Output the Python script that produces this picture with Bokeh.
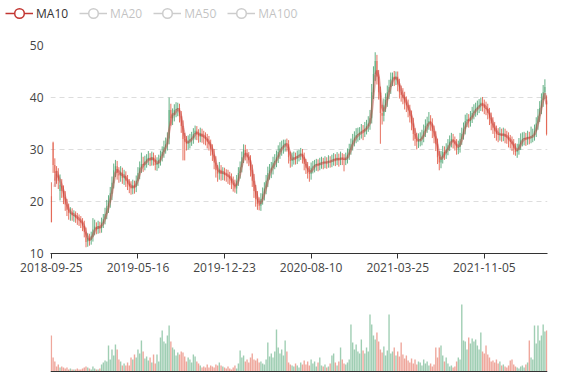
import numpy as np
import pandas as pd
from bokeh.plotting import figure
from bokeh.models import (ColumnDataSource, Range1d, Legend, LegendItem, Span,
                          FixedTicker)
from bokeh.layouts import column
from bokeh.embed import file_html
from bokeh.resources import INLINE

# ---------------- data (each candle ~ 3 trading days) ----------------
tick_labels = ["2018-09-25", "2019-05-16", "2019-12-23", "2020-08-10", "2021-03-25", "2021-11-05"]
tick_index = [0, 50, 100, 150, 200, 250]
series_names = ["MA10", "MA20", "MA50", "MA100"]

opens = [
    21.0, 31.3, 27.0, 25.2, 25.0, 22.0, 23.0, 22.0, 20.8, 19.4,
    18.4, 17.6, 17.8, 17.2, 17.3, 16.9, 16.5, 16.3, 15.9, 15.3,
    14.2, 12.3, 12.9, 12.6, 13.2, 14.6, 15.1, 14.7, 15.2, 14.9,
    15.8, 16.6, 17.6, 19.0, 19.8, 21.5, 23.5, 26.0, 26.8, 25.4,
    25.0, 25.6, 24.5, 24.9, 24.0, 23.4, 22.9, 22.5, 23.1, 22.8,
    24.0, 25.5, 26.5, 27.2, 27.0, 27.7, 28.1, 28.4, 27.9, 28.5,
    28.0, 27.0, 27.4, 28.0, 28.8, 29.5, 30.5, 31.0, 32.1, 37.6,
    36.0, 36.7, 37.6, 37.8, 38.0, 36.4, 34.5, 32.0, 31.5, 31.1,
    31.6, 32.0, 32.2, 33.0, 33.6, 33.0, 32.5, 33.1, 32.5, 32.3,
    32.0, 31.5, 31.0, 30.0, 29.0, 27.5, 26.0, 25.4, 26.1, 25.3,
    25.6, 25.2, 25.0, 24.8, 24.4, 23.5, 23.2, 22.5, 24.0, 25.5,
    26.6, 28.5, 29.9, 29.0, 28.5, 28.0, 26.0, 24.0, 22.0, 20.5,
    19.5, 19.2, 20.5, 21.5, 22.5, 24.0, 25.5, 26.0, 26.5, 27.5,
    27.8, 28.5, 29.5, 30.2, 30.5, 30.8, 31.2, 31.0, 28.5, 27.8,
    28.2, 28.5, 28.3, 28.8, 29.0, 29.2, 28.5, 27.2, 26.5, 25.5,
    25.3, 26.5, 26.8, 27.0, 27.2, 27.0, 27.4, 27.5, 27.4, 27.6,
    27.5, 27.8, 27.7, 27.9, 28.2, 28.0, 28.3, 28.0, 28.4, 28.2,
    28.0, 28.3, 29.0, 30.0, 31.0, 31.8, 32.3, 32.8, 33.0, 33.2,
    33.8, 33.5, 34.0, 34.5, 35.0, 36.0, 41.0, 44.5, 47.0, 44.0,
    41.0, 37.0, 36.5, 38.5, 39.5, 41.0, 42.0, 43.5, 44.0, 43.5,
    44.0, 42.5, 41.0, 40.5, 40.0, 39.0, 38.5, 37.5, 36.5, 35.0,
    33.0, 32.0, 31.5, 31.8, 32.0, 32.5, 33.5, 34.5, 35.0, 35.5,
    35.0, 33.5, 32.5, 31.0, 28.5, 27.5, 28.5, 29.5, 29.3, 30.0,
    30.8, 31.5, 32.0, 31.5, 31.0, 30.2, 30.5, 32.0, 33.0, 34.0,
    35.5, 35.8, 35.5, 36.2, 37.0, 37.5, 37.8, 38.2, 38.5, 39.0,
    38.5, 38.0, 37.8, 37.0, 36.0, 35.0, 34.2, 33.5, 33.0, 32.8,
    33.0, 32.7, 33.0, 32.5, 32.3, 31.8, 31.5, 31.0, 30.2, 29.5,
    30.0, 31.0, 31.8, 32.0, 32.2, 32.0, 32.4, 32.2, 32.5, 32.8,
    33.5, 35.0, 36.5, 38.0, 39.5, 41.0, 39.4]

highs = [
    23.7, 31.5, 28.3, 26.8, 26.4, 25.2, 24.3, 23.1, 22.0, 20.5,
    19.6, 18.9, 18.7, 18.3, 18.1, 17.8, 17.5, 17.2, 16.8, 16.3,
    15.0, 13.9, 13.8, 14.2, 16.8, 16.5, 16.0, 16.3, 16.1, 16.9,
    17.6, 18.8, 20.3, 21.2, 22.8, 24.8, 27.3, 28.0, 27.8, 26.6,
    26.8, 26.5, 26.1, 25.8, 25.1, 24.3, 23.9, 24.2, 24.0, 25.0,
    26.6, 27.7, 29.4, 28.6, 28.8, 29.1, 29.7, 29.3, 29.6, 29.4,
    28.9, 28.5, 29.0, 29.8, 30.6, 31.7, 32.3, 33.3, 40.0, 38.8,
    37.9, 38.7, 39.1, 39.0, 38.8, 37.4, 35.6, 33.2, 32.6, 32.7,
    33.0, 33.4, 34.1, 34.6, 34.5, 33.9, 34.2, 34.0, 33.6, 33.3,
    33.0, 32.6, 31.9, 31.0, 30.1, 28.7, 27.0, 27.6, 27.0, 26.6,
    26.5, 26.2, 26.1, 25.7, 25.4, 24.8, 24.2, 25.1, 26.6, 27.7,
    29.6, 31.0, 30.9, 30.1, 29.5, 28.9, 27.1, 25.3, 23.2, 22.0,
    20.8, 21.6, 22.7, 23.7, 25.1, 26.7, 27.2, 27.6, 28.6, 29.1,
    29.8, 30.8, 31.4, 31.7, 31.9, 31.9, 32.1, 31.8, 29.6, 29.4,
    29.6, 29.4, 29.8, 30.0, 30.3, 30.1, 29.4, 28.2, 27.6, 26.8,
    27.5, 27.8, 28.0, 28.2, 28.1, 28.4, 28.6, 28.4, 28.7, 28.5,
    28.9, 28.7, 29.0, 29.3, 29.1, 29.5, 29.2, 29.6, 29.3, 29.1,
    29.4, 30.2, 31.1, 32.1, 33.0, 33.5, 34.1, 34.2, 34.3, 34.9,
    34.7, 35.3, 35.7, 36.4, 37.6, 42.6, 46.0, 48.7, 48.2, 45.3,
    42.1, 38.6, 39.8, 40.8, 42.3, 43.4, 44.8, 44.8, 45.1, 45.0,
    45.0, 43.6, 42.3, 41.8, 41.1, 40.2, 39.6, 38.6, 37.5, 36.1,
    34.1, 33.2, 33.1, 33.3, 33.8, 34.8, 35.8, 36.3, 37.2, 36.6,
    36.0, 34.6, 33.5, 32.1, 29.7, 29.7, 30.7, 30.6, 31.2, 32.0,
    32.7, 33.2, 33.0, 32.5, 32.0, 31.7, 33.2, 34.2, 35.2, 36.7,
    37.0, 36.8, 37.4, 38.2, 38.7, 39.0, 39.4, 39.7, 40.0, 40.1,
    39.6, 39.2, 38.8, 38.0, 37.1, 36.2, 35.3, 34.6, 34.1, 34.3,
    34.0, 34.2, 34.0, 33.6, 33.3, 32.8, 32.5, 32.0, 31.2, 31.1,
    32.2, 33.1, 33.3, 33.4, 33.2, 33.6, 33.4, 34.4, 34.0, 34.8,
    36.2, 37.8, 39.3, 40.8, 42.4, 43.5, 40.4]

lows = [
    16.0, 25.5, 24.0, 23.4, 22.4, 20.2, 20.7, 19.5, 18.2, 17.2,
    16.5, 16.3, 16.3, 16.1, 15.9, 15.5, 15.3, 14.9, 14.3, 13.1,
    11.2, 11.3, 11.5, 11.7, 12.3, 13.5, 13.7, 13.8, 13.9, 14.0,
    14.9, 15.6, 16.6, 17.8, 18.8, 20.3, 22.5, 24.7, 24.2, 23.6,
    23.8, 23.4, 23.2, 22.8, 22.2, 21.6, 21.3, 21.4, 21.5, 21.8,
    23.0, 24.3, 25.5, 25.7, 26.0, 26.5, 27.0, 26.8, 26.9, 26.9,
    26.0, 25.9, 26.4, 26.9, 27.7, 28.4, 29.2, 29.8, 31.0, 34.6,
    34.7, 35.4, 36.2, 36.4, 35.2, 33.2, 27.9, 27.9, 29.8, 30.0,
    30.2, 30.7, 31.1, 31.9, 31.8, 31.3, 31.4, 31.3, 31.0, 30.8,
    30.2, 29.8, 28.8, 27.8, 26.2, 24.6, 23.8, 24.2, 24.0, 24.1,
    24.0, 23.8, 23.4, 23.2, 22.4, 21.9, 21.7, 21.5, 23.0, 24.4,
    25.6, 27.4, 27.9, 27.3, 26.8, 24.8, 22.8, 20.7, 19.0, 18.4,
    18.3, 18.2, 19.4, 20.2, 21.4, 22.8, 24.2, 24.5, 25.2, 26.2,
    26.6, 27.4, 28.2, 28.8, 29.2, 29.6, 29.6, 27.3, 26.5, 26.7,
    27.1, 27.1, 27.2, 27.7, 28.0, 27.3, 26.0, 25.3, 24.4, 23.8,
    24.2, 25.4, 25.6, 25.9, 25.8, 26.0, 26.3, 26.2, 26.4, 26.3,
    26.5, 26.5, 26.6, 26.9, 26.8, 27.0, 26.7, 27.0, 27.0, 25.8,
    27.0, 27.3, 28.0, 29.0, 29.8, 30.6, 31.2, 31.5, 31.8, 32.1,
    31.8, 32.4, 32.9, 33.4, 33.8, 35.0, 39.7, 43.2, 42.5, 39.6,
    31.1, 34.8, 35.4, 37.2, 38.2, 39.7, 40.7, 42.2, 42.2, 42.4,
    41.2, 39.8, 39.2, 38.7, 37.7, 37.2, 36.2, 35.2, 33.7, 31.7,
    30.7, 30.0, 30.3, 30.6, 30.8, 31.4, 32.4, 33.2, 33.8, 33.6,
    32.2, 31.2, 29.7, 27.2, 26.0, 26.4, 27.3, 28.0, 28.2, 28.9,
    29.7, 30.4, 30.2, 29.8, 29.0, 29.1, 29.4, 30.9, 31.9, 32.9,
    34.3, 34.2, 34.4, 35.1, 35.8, 36.3, 36.6, 37.0, 37.4, 37.3,
    36.8, 36.6, 35.8, 34.7, 33.7, 33.0, 32.2, 31.7, 31.4, 31.7,
    31.5, 31.6, 31.2, 31.1, 30.4, 30.2, 29.7, 29.0, 28.8, 28.4,
    29.0, 29.9, 30.6, 30.8, 30.7, 30.9, 31.0, 31.2, 31.4, 31.7,
    32.4, 33.8, 35.3, 36.8, 38.2, 39.7, 32.7]

closes = [
    16.0, 27.0, 25.5, 25.0, 24.0, 23.2, 22.0, 20.8, 19.4, 18.4,
    17.8, 17.9, 17.3, 17.4, 16.9, 16.6, 16.4, 15.9, 15.4, 14.2,
    12.2, 13.0, 12.5, 13.3, 14.6, 15.2, 14.7, 15.3, 14.9, 15.9,
    16.6, 17.6, 19.1, 19.8, 21.6, 23.6, 26.0, 26.8, 25.5, 25.0,
    25.6, 24.5, 24.9, 24.0, 23.4, 22.9, 22.5, 23.1, 22.8, 24.0,
    25.5, 26.5, 27.2, 27.0, 27.7, 28.1, 28.4, 27.9, 28.5, 28.0,
    27.0, 27.4, 28.0, 28.8, 29.5, 30.5, 31.0, 32.1, 37.6, 36.0,
    36.7, 37.6, 37.8, 38.0, 36.4, 34.5, 32.0, 31.5, 31.1, 31.6,
    32.0, 32.2, 33.0, 33.6, 33.0, 32.5, 33.1, 32.5, 32.3, 32.0,
    31.5, 31.0, 30.0, 29.0, 27.5, 26.0, 25.4, 26.1, 25.3, 25.6,
    25.2, 25.0, 24.8, 24.4, 23.5, 23.2, 22.5, 24.0, 25.5, 26.6,
    28.5, 29.9, 29.0, 28.5, 28.0, 26.0, 24.0, 22.0, 20.5, 19.5,
    19.2, 20.5, 21.5, 22.5, 24.0, 25.5, 26.0, 26.5, 27.5, 27.8,
    28.5, 29.5, 30.2, 30.5, 30.8, 31.2, 31.0, 28.5, 27.8, 28.2,
    28.5, 28.3, 28.8, 29.0, 29.2, 28.5, 27.2, 26.5, 25.5, 25.3,
    26.5, 26.8, 27.0, 27.2, 27.0, 27.4, 27.5, 27.4, 27.6, 27.5,
    27.8, 27.7, 27.9, 28.2, 28.0, 28.3, 28.0, 28.4, 28.2, 28.0,
    28.3, 29.0, 30.0, 31.0, 31.8, 32.3, 32.8, 33.0, 33.2, 33.5,
    33.5, 34.0, 34.5, 35.0, 36.0, 41.0, 44.5, 47.0, 44.0, 41.0,
    37.0, 36.5, 38.5, 39.5, 41.0, 42.0, 43.5, 44.0, 43.5, 44.0,
    42.5, 41.0, 40.5, 40.0, 39.0, 38.5, 37.5, 36.5, 35.0, 33.0,
    32.0, 31.5, 31.8, 32.0, 32.5, 33.5, 34.5, 35.0, 35.5, 35.0,
    33.5, 32.5, 31.0, 28.5, 27.5, 28.5, 29.5, 29.3, 30.0, 30.8,
    31.5, 32.0, 31.5, 31.0, 30.2, 30.5, 32.0, 33.0, 34.0, 35.5,
    35.8, 35.5, 36.2, 37.0, 37.5, 37.8, 38.2, 38.5, 39.0, 38.5,
    38.0, 37.8, 37.0, 36.0, 35.0, 34.2, 33.5, 33.0, 32.8, 33.0,
    32.7, 33.0, 32.5, 32.3, 31.8, 31.5, 31.0, 30.2, 29.5, 30.0,
    31.0, 31.8, 32.0, 32.2, 32.0, 32.4, 32.2, 32.5, 32.8, 33.5,
    35.0, 36.5, 38.0, 39.5, 41.0, 42.0, 33.0]

volumes = [
    36, 14, 10, 5, 7, 4, 5, 4, 3, 4,
    2, 3, 2, 2, 2, 3, 2, 2, 3, 4,
    5, 4, 3, 2, 5, 3, 2, 2, 3, 7,
    9, 11, 10, 26, 12, 22, 16, 27, 22, 12,
    10, 6, 8, 6, 9, 6, 14, 12, 17, 14,
    22, 18, 31, 20, 13, 15, 11, 14, 9, 17,
    8, 17, 10, 34, 41, 30, 28, 36, 46, 30,
    24, 22, 16, 19, 17, 20, 19, 15, 10, 14,
    12, 9, 17, 15, 10, 8, 6, 4, 5, 4,
    7, 4, 6, 5, 4, 7, 6, 9, 6, 5,
    4, 3, 5, 3, 2, 4, 6, 3, 8, 21,
    14, 16, 10, 12, 9, 14, 18, 12, 11, 13,
    9, 10, 8, 7, 12, 29, 15, 18, 14, 20,
    42, 24, 18, 22, 16, 31, 20, 9, 7, 6,
    5, 8, 6, 4, 9, 7, 11, 7, 10, 6,
    12, 8, 10, 5, 9, 14, 6, 5, 7, 4,
    5, 8, 16, 18, 9, 6, 10, 24, 12, 8,
    7, 9, 12, 47, 29, 22, 27, 20, 18, 32,
    21, 18, 24, 20, 57, 47, 36, 32, 39, 30,
    22, 19, 25, 16, 21, 57, 18, 20, 24, 16,
    20, 15, 29, 17, 13, 16, 11, 9, 13, 8,
    12, 7, 10, 9, 6, 12, 8, 10, 6, 8,
    5, 7, 24, 14, 24, 26, 16, 10, 14, 8,
    5, 6, 4, 5, 10, 14, 12, 67, 31, 30,
    22, 34, 28, 33, 30, 32, 26, 22, 39, 20,
    18, 26, 17, 14, 10, 11, 9, 12, 8, 10,
    6, 7, 5, 4, 6, 11, 12, 7, 5, 4,
    3, 5, 6, 4, 7, 9, 31, 14, 12, 46,
    28, 46, 31, 36, 47, 40, 41]

# ---------------- derived ----------------
UP = "#3f9e68"
DOWN = "#e04f3a"
MA_COLOR = "#c23531"
n = len(closes)
idx = np.arange(n)
o = np.array(opens)
c = np.array(closes)
colors = np.where(c >= o, UP, DOWN)

# each candle spans ~3 trading days, so a 10-day average is ~3 candles
ma10 = pd.Series(closes).rolling(3).mean()

src = ColumnDataSource(dict(
    x=idx, high=np.array(highs), low=np.array(lows),
    top=np.maximum(o, c), bottom=np.minimum(o, c), color=colors,
    vol=np.array(volumes), ma10=ma10.values,
))

FONT = "Open Sans"
W = 577
x_range = Range1d(-0.5, n - 0.5)

# ---------------- legend strip (separate root, full-width frame) ----------------
# its ranges exclude the data, so the proxy renderers draw nothing in the strip
lf = figure(width=W, height=26, x_range=Range1d(-1000, -999), y_range=Range1d(-1000, -999),
            output_backend="svg", toolbar_location=None,
            x_axis_type=None, y_axis_type=None,
            min_border_left=0, min_border_right=0, min_border_top=0, min_border_bottom=0)
lf.outline_line_color = None
lf.xgrid.grid_line_color = None
lf.ygrid.grid_line_color = None

def proxy(col, vis=True):
    ln = lf.line("x", "ma10", source=src, line_color=col, line_width=1.5, visible=vis)
    dot = lf.scatter("x", "ma10", source=src, marker="circle", fill_color="white",
                     line_color=col, line_width=1.5, visible=vis)
    return [ln, dot]

items = [LegendItem(label=series_names[0], renderers=proxy(MA_COLOR))]
for name in series_names[1:]:
    items.append(LegendItem(label=name, renderers=proxy("#555555", False)))

legend = Legend(items=items, location=(5, 1), orientation="horizontal",
                click_policy="hide", background_fill_alpha=0, border_line_alpha=0,
                padding=0, margin=0, spacing=11, glyph_width=28, glyph_height=24,
                label_height=24, label_standoff=3, label_text_font=FONT,
                label_text_font_size="12px", label_text_color="#333333",
                inactive_fill_color="white", inactive_fill_alpha=0.7)
lf.add_layout(legend, "center")

# ---------------- main candlestick figure ----------------
p = figure(width=W, height=262, x_range=x_range, y_range=Range1d(10, 50),
           output_backend="svg", toolbar_location=None,
           min_border_left=50, min_border_right=30, min_border_top=19,
           min_border_bottom=35)
p.outline_line_color = None

p.segment(x0="x", y0="high", x1="x", y1="low", source=src,
          line_color="color", line_alpha=0.8, line_width=1)
p.vbar(x="x", top="top", bottom="bottom", width=0.8, source=src,
       fill_color="color", fill_alpha=0.5, line_color=None)
p.line("x", "ma10", source=src, line_color=MA_COLOR, line_alpha=0.45, line_width=2.5)

p.xaxis.ticker = FixedTicker(ticks=tick_index)
p.xaxis.major_label_overrides = {i: s for i, s in zip(tick_index, tick_labels)}
p.xaxis.axis_line_color = "#333333"
p.xaxis.major_tick_line_color = "#333333"
p.xaxis.major_tick_out = 5
p.xaxis.major_tick_in = 0
p.xaxis.minor_tick_line_color = None
p.xaxis.major_label_text_font = FONT
p.xaxis.major_label_text_font_size = "12px"
p.xaxis.major_label_text_color = "#444444"
p.xaxis.major_label_standoff = 4

p.yaxis.ticker = FixedTicker(ticks=[10, 20, 30, 40, 50])
p.yaxis.axis_line_color = None
p.yaxis.major_tick_line_color = None
p.yaxis.major_tick_out = 0
p.yaxis.minor_tick_line_color = None
p.yaxis.major_label_text_font = FONT
p.yaxis.major_label_text_font_size = "12px"
p.yaxis.major_label_text_color = "#444444"
p.yaxis.major_label_standoff = 7

p.xgrid.grid_line_color = None
p.ygrid.grid_line_color = "#dddddd"
p.ygrid.grid_line_dash = "5 4"

# ---------------- volume figure ----------------
v = figure(width=W, height=92, x_range=x_range, y_range=Range1d(-1, 71),
           output_backend="svg", toolbar_location=None,
           x_axis_type=None, y_axis_type=None,
           min_border_left=50, min_border_right=30, min_border_top=12,
           min_border_bottom=8)
v.outline_line_color = None
v.xgrid.grid_line_color = None
v.ygrid.grid_line_color = None
v.vbar(x="x", top="vol", bottom=0, width=0.8, source=src,
       fill_color="color", fill_alpha=0.5, line_color=None)
v.add_layout(Span(location=0, dimension="width", line_color="#333333", line_width=1))

layout = column(p, v, spacing=0)
open("out.html", "w").write(file_html([lf, layout], INLINE))
